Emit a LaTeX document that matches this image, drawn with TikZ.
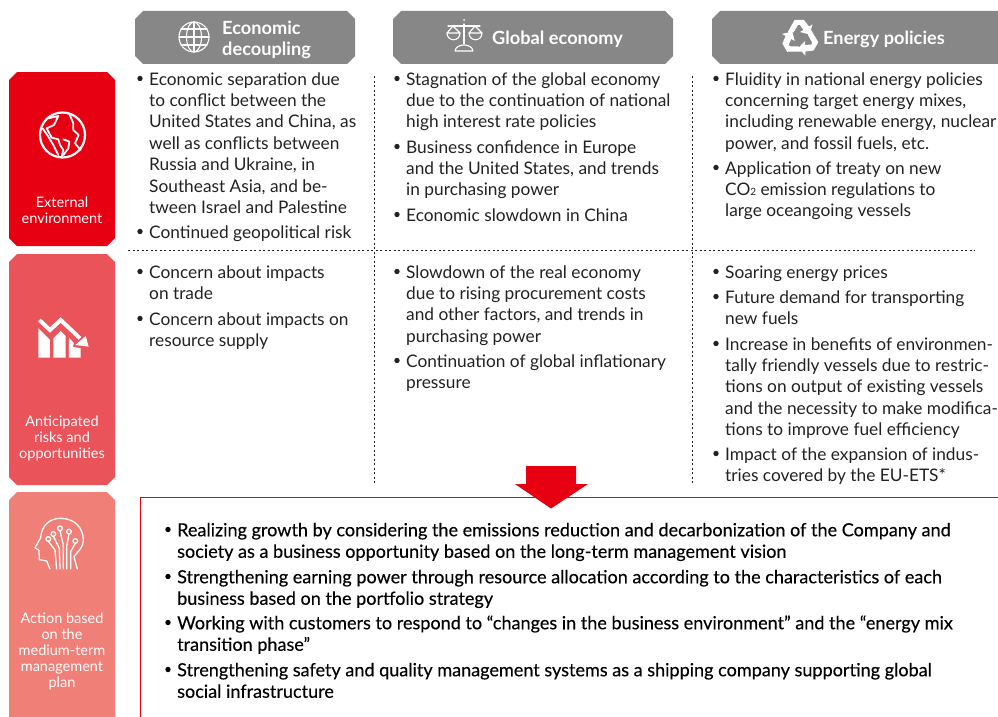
\documentclass[tikz,border=0pt]{standalone}
\usepackage{fontspec}
\setmainfont{Lato}
\newfontfamily\medf[FakeBold=0.25]{Lato}
\definecolor{cGray}{HTML}{878787}
\definecolor{cRedA}{HTML}{E60012}
\definecolor{cRedB}{HTML}{EB535B}
\definecolor{cRedC}{HTML}{F07F78}
\definecolor{cTxt}{HTML}{222222}
\tikzset{
  x=1pt,y=-1pt,
  hdtext/.style={text=white,font=\fontsize{18.2}{21}\selectfont\bfseries,align=left,inner sep=0pt},
  sidetext/.style={text=white,font=\fontsize{14.5}{16}\selectfont,align=center,inner sep=0pt},
  body/.style={text=cTxt,font=\fontsize{17.3}{21.4}\selectfont,align=left,inner sep=0pt,anchor=north west},
  strong/.style={text=black,font=\medf\fontsize{18.05}{21.5}\selectfont,align=left,inner sep=0pt,anchor=north west},
  sep/.style={draw=cTxt,line width=.7pt,dash pattern=on 2pt off 2.5pt},
  ic/.style={draw=white,line width=1.1pt,line cap=round,line join=round},
  icb/.style={draw=white,line width=2.2pt,line cap=round,line join=round},
}
\newcommand{\chbox}[6]{\fill[#6] (#1+#5,#2) -- (#3-#5,#2) -- (#3,#2+#5) -- (#3,#4-#5) -- (#3-#5,#4) -- (#1+#5,#4) -- (#1,#4-#5) -- (#1,#2+#5) -- cycle;}
\newcommand{\bul}[4]{\fill[cTxt] (#1-9,#2+10.5) circle (2.7);\node[body] (#3) at (#1,#2+2) {\strut #4};}
\newcommand{\bulb}[4]{\fill[black] (#1-9,#2+10.5) circle (2.7);\node[strong] (#3) at (#1,#2+2) {\strut #4};}
\newcommand{\recyc}[1]{\begin{scope}[shift={(800,38)},rotate=#1]
  \fill[white] (-12.5,-5.5) -- (-5.5,-18) -- (4,-18) -- (9,-11.5) -- (12.5,-13.5) -- (9.5,-3.5) -- (0,-6) -- (3.5,-8) -- (0,-13) -- (-2,-13) -- (-6.5,-5.5) -- cycle;
\end{scope}}
\begin{document}
\begin{tikzpicture}
\useasboundingbox (0,0) rectangle (998,717);
\clip (0,0) rectangle (998,717);
% headers
\chbox{135}{11}{355}{64}{8}{cGray}
\chbox{393}{11}{673}{64}{8}{cGray}
\chbox{712}{11}{1006}{64}{8}{cGray}
\node[hdtext,anchor=west] (h1) at (222,39.500) {Economic\\decoupling};
\node[hdtext,anchor=west] (h2) at (492,39) {Global economy};
\node[hdtext,anchor=west] (h3) at (823,39) {Energy policies};
% header icons: globe
\draw[ic] (194,37) circle (15);
\draw[ic] (194,37) ellipse (7.5 and 15);
\draw[ic] (194,22) -- (194,52) (179,37) -- (209,37) (181,29) -- (207,29) (181,45) -- (207,45);
% scales
\fill[white] (464,20) circle (1);
\draw[ic] (464,24) -- (464,44) (448,26) -- (480,26);
\draw[ic] (453,26) -- (447,33) -- (460,33) -- cycle;
\draw[ic] (447,33) .. controls (447,42) and (460,42) .. (460,33);
\draw[ic] (475,26) -- (469,33) -- (482,33) -- cycle;
\draw[ic] (469,33) .. controls (469,42) and (482,42) .. (482,33);
\draw[ic] (455,51) .. controls (456,43) and (472,43) .. (473,51) -- cycle;
% recycling
\recyc{0}\recyc{120}\recyc{240}
% side
\chbox{9}{72}{115}{246}{8}{cRedA}
\chbox{9}{254}{115}{485}{8}{cRedB}
\chbox{9}{492}{115}{725}{8}{cRedC}
\node[sidetext] (s1) at (62,210) {External\\environment};
\node[sidetext] (s2) at (62,438) {Anticipated\\risks and\\opportunities};
\node[sidetext] (s3) at (62,651) {Action based\\on the\\medium-term\\management\\plan};
% earth icon
\draw[icb] (62.500,135) circle (22.5);
\begin{scope}[shift={(30,100)},scale=0.3333]
\draw[ic,line width=1.8pt] (55,55) -- (85,48) -- (72,75) -- (50,85) -- (65,113) -- (85,118) -- (90,135) -- (100,150) -- (95,170);
\draw[ic,line width=1.8pt] (38,85) -- (55,110) -- (70,135) -- (85,165);
\draw[ic,line width=1.8pt] (118,42) -- (130,70) -- (130,90) -- (146,105) -- (135,130) -- (152,150);
\draw[ic,line width=1.8pt] (100,118) -- (118,125) -- (115,145) -- (100,165);
\end{scope}
% chart icon
\begin{scope}[shift={(0,250)},scale=0.3333]
\draw[draw=white,line width=4pt] (118,210) -- (150,240) -- (182,210) -- (240,265);
\fill[white] (266,290) -- (257,258) -- (226,285) -- cycle;
\fill[white] (115,235) -- (150,270) -- (150,323) -- (115,323) -- cycle;
\fill[white] (160,265) -- (182,243) -- (197,258) -- (197,323) -- (160,323) -- cycle;
\fill[white] (207,262) -- (222,280) -- (218,290) -- (242,295) -- (242,323) -- (207,323) -- cycle;
\end{scope}
% head icon
\begin{scope}[shift={(0,485)},scale=0.3333]
\draw[ic,line width=1.3pt] (150,252) -- (140,228) -- (118,224) -- (117,196) -- (105,188) -- (122,158) .. controls (125,120) and (150,100) .. (182,100) .. controls (225,100) and (250,130) .. (250,165) .. controls (250,190) and (232,200) .. (222,215) -- (232,252);
\draw[ic,line width=1.3pt] (145,169) -- (165,195) -- (170,252);
\draw[ic,line width=1.3pt] (160,154) -- (178,190) -- (180,252);
\draw[ic,line width=1.3pt] (180,137) -- (190,180) -- (190,252);
\draw[ic,line width=1.3pt] (207,147) -- (200,185) -- (200,252);
\draw[ic,line width=1.3pt] (226,175) -- (212,200) -- (212,252);
\draw[ic,line width=1.3pt] (145,162) circle (7) (160,147) circle (7) (180,130) circle (7) (207,140) circle (7) (226,168) circle (7);
\end{scope}
% separators
\draw[sep] (374,76) -- (374,485);
\draw[sep] (692,76) -- (692,485);
\draw[sep] (128,250) -- (975,250);
% col 1
\bul{149}{68}{a1}{Economic separation due\\to conflict between the\\United States and China, as\\well as conflicts between\\Russia and Ukraine, in\\Southeast Asia, and be-\\tween Israel and Palestine}
\bul{149}{221}{a2}{Continued geopolitical risk}
\bul{149}{261}{a3}{Concern about impacts\\on trade}
\bul{149}{308}{a4}{Concern about impacts on\\resource supply}
% col 2
\bul{406}{68}{b1}{Stagnation of the global economy\\due to the continuation of national\\high interest rate policies}
\bul{406}{136}{b2}{Business confidence in Europe\\and the United States, and trends\\in purchasing power}
\bul{406}{204}{b3}{Economic slowdown in China}
\bul{406}{261}{b4}{Slowdown of the real economy\\due to rising procurement costs\\and other factors, and trends in\\purchasing power}
\bul{406}{350}{b5}{Continuation of global inflationary\\pressure}
% col 3
\bul{725}{68}{c1}{Fluidity in national energy policies\\concerning target energy mixes,\\including renewable energy, nuclear\\power, and fossil fuels, etc.}
\bul{725}{157}{c2}{Application of treaty on new\\CO{\fontsize{10}{10}\selectfont 2} emission regulations to\\large oceangoing vessels}
\bul{725}{261}{c3}{Soaring energy prices}
\bul{725}{286}{c4}{Future demand for transporting\\new fuels}
\bul{725}{333}{c5}{Increase in benefits of environmen-\\tally friendly vessels due to restric-\\tions on output of existing vessels\\and the necessity to make modifica-\\tions to improve fuel efficiency}
\bul{725}{443}{c6}{Impact of the expansion of indus-\\tries covered by the EU-ETS*}
% bottom box
\draw[draw=cRedA,line width=1pt] (140.500,725) -- (140.500,497.5) -- (1005,497.5);
\fill[cRedA] (526,466) -- (576,466) -- (576,484) -- (588,484) -- (551,508.500) -- (515,484) -- (526,484) -- cycle;
\bulb{177}{519}{d1}{Realizing growth by considering the emissions reduction and decarbonization of the Company and\\society as a business opportunity based on the long-term management vision}
\bulb{177}{566}{d2}{Strengthening earning power through resource allocation according to the characteristics of each\\business based on the portfolio strategy}
\bulb{177}{612}{d3}{Working with customers to respond to “changes in the business environment” and the “energy mix\\transition phase”}
\bulb{177}{659}{d4}{Strengthening safety and quality management systems as a shipping company supporting global\\social infrastructure}
\end{tikzpicture}
\end{document}
